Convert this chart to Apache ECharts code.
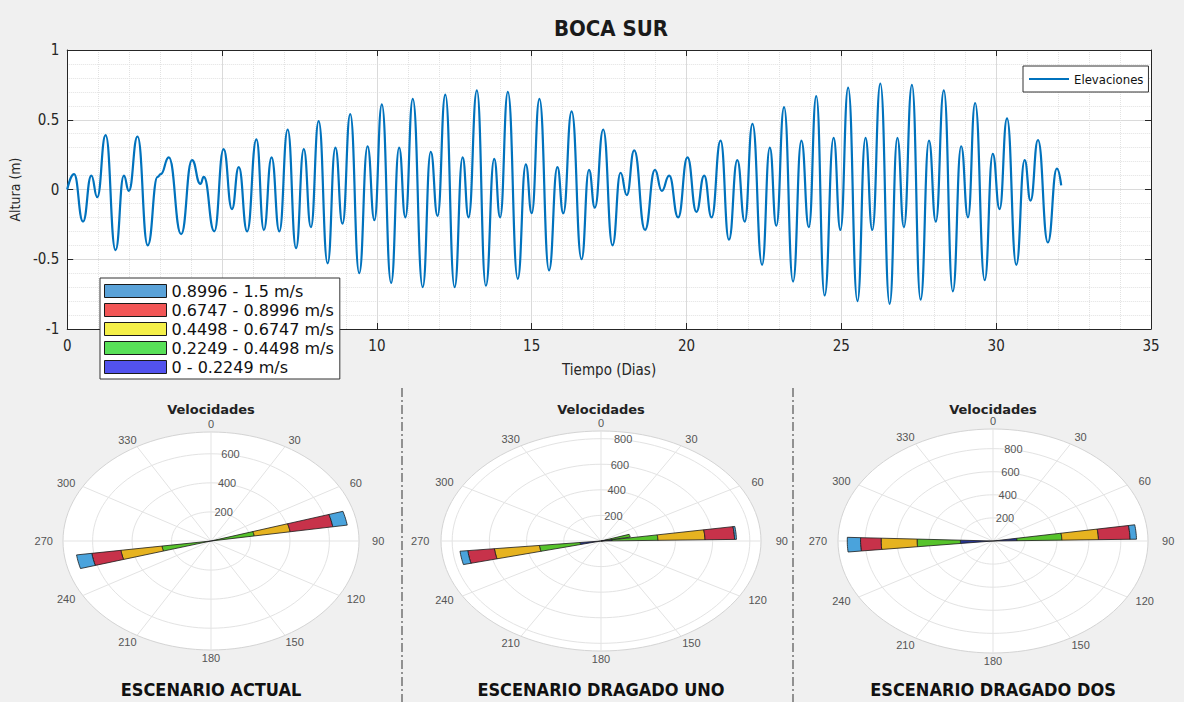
<!DOCTYPE html>
<html><head><meta charset="utf-8">
<script src="https://cdn.jsdelivr.net/npm/echarts@6/dist/echarts.min.js"></script>
<style>html,body{margin:0;padding:0;background:#f0f0f0}#c{width:1184px;height:702px}</style>
</head><body><div id="c"></div>
<script>
// ---------- DATA ----------
// Tidal elevation (turning points): time in days, height in m
const timeDays = [0,0.22,0.51,0.78,0.97,1.24,1.56,1.83,1.99,2.27,2.60,2.92,3.02,3.28,3.68,4.03,4.30,4.41,4.75,5.05,5.32,5.54,5.81,6.11,6.35,6.60,6.85,7.12,7.39,7.64,7.87,8.12,8.41,8.66,8.89,9.14,9.43,9.70,9.92,10.16,10.46,10.72,10.92,11.16,11.48,11.74,11.96,12.21,12.51,12.77,12.96,13.23,13.52,13.79,13.98,14.23,14.55,14.81,15.00,15.25,15.56,15.83,16.02,16.29,16.61,16.85,17.04,17.31,17.61,17.87,18.07,18.31,18.66,18.98,19.20,19.44,19.73,20.03,20.32,20.57,20.81,21.10,21.37,21.64,21.88,22.13,22.44,22.69,22.90,23.15,23.44,23.71,23.95,24.19,24.46,24.75,24.97,25.22,25.52,25.78,26.00,26.26,26.56,26.81,27.02,27.28,27.56,27.83,28.05,28.31,28.60,28.87,29.09,29.32,29.63,29.89,30.11,30.35,30.65,30.92,31.11,31.35,31.67,31.96,32.10];
const elevationM = [0,0.11,-0.23,0.10,-0.055,0.39,-0.435,0.10,-0.01,0.38,-0.40,0.09,0.11,0.23,-0.32,0.21,0.04,0.09,-0.30,0.29,-0.14,0.16,-0.30,0.36,-0.29,0.23,-0.30,0.43,-0.42,0.29,-0.27,0.49,-0.53,0.30,-0.245,0.54,-0.60,0.31,-0.22,0.61,-0.67,0.30,-0.20,0.65,-0.70,0.27,-0.19,0.68,-0.70,0.23,-0.20,0.71,-0.69,0.22,-0.20,0.70,-0.64,0.18,-0.17,0.65,-0.58,0.16,-0.17,0.56,-0.50,0.14,-0.13,0.43,-0.40,0.12,-0.04,0.28,-0.29,0.14,-0.01,0.10,-0.20,0.23,-0.16,0.10,-0.20,0.35,-0.36,0.21,-0.23,0.47,-0.54,0.30,-0.26,0.59,-0.66,0.35,-0.27,0.67,-0.76,0.37,-0.29,0.73,-0.80,0.37,-0.29,0.76,-0.82,0.37,-0.27,0.75,-0.79,0.35,-0.23,0.71,-0.73,0.31,-0.20,0.62,-0.65,0.255,-0.14,0.51,-0.54,0.21,-0.08,0.355,-0.38,0.15,0.03];
// x tick values hidden behind the velocity legend in the reference
const hiddenXTicks = [5];

// Velocity classes (inner to outer)
const speedClasses = ['0 - 0.2249 m/s','0.2249 - 0.4498 m/s','0.4498 - 0.6747 m/s','0.6747 - 0.8996 m/s','0.8996 - 1.5 m/s'];
// Rose: direction (deg) of each petal and counts per class (inner to outer)
const actualDirs = [77, 258];
const actualCounts = [[15,207,184,219,74],[15,236,210,149,78]];
const actualRings = [200,400,600];
const actualRmax = 750;
const unoDirs = [75, 85, 260];
const unoCounts = [[30,130,0,0,0],[60,246,253,159,10],[113,220,243,144,42]];
const unoRings = [200,400,600,800];
const unoRmax = 860;
const dosDirs = [85, 268];
const dosCounts = [[150,281,229,198,40],[204,271,225,129,83]];
const dosRings = [200,400,600,800];
const dosRmax = 970;
const angleTicks = [0,30,60,90,120,150,180,210,240,270,300,330];
const binWidth = 8;
const scenarioNames = ['ESCENARIO ACTUAL','ESCENARIO DRAGADO UNO','ESCENARIO DRAGADO DOS'];

// ---------- STYLE / LAYOUT ----------
const NARROW = "'Liberation Sans Narrow','DejaVu Sans Condensed','Arial Narrow',sans-serif";
const WIDE = "'DejaVu Sans',sans-serif";
const ARIAL = "'Liberation Sans',Arial,sans-serif";
const roseFill = ['#26348f','#56c32b','#e6b320','#c7324a','#4aa3dc'];
const legendSwatch = ['#5252ee','#58e058','#f4ef48','#f25656','#5aa2d8'];
const roseBoxes = [{cx:211,cy:541,a:148,b:109},{cx:601,cy:541,a:160,b:110},{cx:993,cy:541,a:155,b:112}];
const roseSets = [
  {dirs:actualDirs, counts:actualCounts, rings:actualRings, rmax:actualRmax},
  {dirs:unoDirs, counts:unoCounts, rings:unoRings, rmax:unoRmax},
  {dirs:dosDirs, counts:dosCounts, rings:dosRings, rmax:dosRmax}
];
const D2R = Math.PI/180;

const chart = echarts.init(document.getElementById('c'), null, {renderer:'svg', width:1184, height:702});

const grids = [{left:67, top:50, width:1084, height:279, show:true, backgroundColor:'#ffffff', borderWidth:0}];
const xAxes = [
  {gridIndex:0, type:'value', min:0, max:35, interval:5, position:'bottom',
   axisLine:{show:true, onZero:false, lineStyle:{color:'#262626'}},
   axisTick:{show:true, inside:true, length:6, lineStyle:{color:'#262626'}},
   axisLabel:{fontFamily:NARROW, fontSize:15, color:'#262626', margin:9,
     formatter:v=>hiddenXTicks.indexOf(v)>=0 ? '' : String(v)},
   splitLine:{show:true, lineStyle:{color:'#dadada'}},
   minorTick:{show:false, splitNumber:5},
   minorSplitLine:{show:true, lineStyle:{color:'#e2e2e2', type:'dotted'}},
   name:'Tiempo (Dias)', nameLocation:'middle', nameGap:33,
   nameTextStyle:{fontFamily:NARROW, fontSize:15, color:'#262626'}},
  {gridIndex:0, type:'value', min:0, max:35, interval:5, position:'top',
   axisLine:{show:true, onZero:false, lineStyle:{color:'#262626'}},
   axisTick:{show:true, inside:true, length:6, lineStyle:{color:'#262626'}},
   axisLabel:{show:false}, splitLine:{show:false}}
];
const yAxes = [
  {gridIndex:0, type:'value', min:-1, max:1, interval:0.5, position:'left',
   axisLine:{show:true, onZero:false, lineStyle:{color:'#262626'}},
   axisTick:{show:true, inside:true, length:6, lineStyle:{color:'#262626'}},
   axisLabel:{fontFamily:NARROW, fontSize:15, color:'#262626', margin:8},
   splitLine:{show:true, lineStyle:{color:'#dadada'}},
   minorTick:{show:false, splitNumber:5},
   minorSplitLine:{show:true, lineStyle:{color:'#e2e2e2', type:'dotted'}},
   name:'Altura (m)', nameLocation:'middle', nameGap:26, nameRotate:90,
   nameTextStyle:{fontFamily:NARROW, fontSize:14, color:'#262626'}},
  {gridIndex:0, type:'value', min:-1, max:1, interval:0.5, position:'right',
   axisLine:{show:true, onZero:false, lineStyle:{color:'#262626'}},
   axisTick:{show:true, inside:true, length:6, lineStyle:{color:'#262626'}},
   axisLabel:{show:false}, splitLine:{show:false}}
];

const series = [{
  name:'Elevaciones', type:'line', xAxisIndex:0, yAxisIndex:0,
  data: timeDays.map((t,i)=>[t, elevationM[i]]),
  showSymbol:false, smooth:0.5, smoothMonotone:'x',
  lineStyle:{color:'#0072BD', width:2.2}, itemStyle:{color:'#0072BD'}, z:3
}];

function ellipsePts(api, r){
  const p=[];
  for(let i=0;i<=120;i++){const t=i*3*D2R; p.push(api.coord([r*Math.sin(t), r*Math.cos(t)]));}
  return p;
}

roseSets.forEach((rs, k) => {
  const bx = roseBoxes[k];
  const gi = k+1;
  const ai = xAxes.length;
  grids.push({left:bx.cx-bx.a, top:bx.cy-bx.b, width:2*bx.a, height:2*bx.b, show:false});
  xAxes.push({gridIndex:gi, type:'value', min:-rs.rmax, max:rs.rmax, show:false, splitLine:{show:false}});
  yAxes.push({gridIndex:gi, type:'value', min:-rs.rmax, max:rs.rmax, show:false, splitLine:{show:false}});
  // polar grid
  series.push({
    type:'custom', name:'grid'+k, xAxisIndex:ai, yAxisIndex:ai, silent:true, z:1,
    data:[[0,0]],
    renderItem:function(params, api){
      const R = rs.rmax, ch=[];
      ch.push({type:'polygon', shape:{points:ellipsePts(api,R)}, style:{fill:'#ffffff', stroke:'#d4d4d4', lineWidth:1}});
      rs.rings.forEach(r=>ch.push({type:'polyline', shape:{points:ellipsePts(api,r)}, style:{fill:null, stroke:'#e3e3e3', lineWidth:1}}));
      const c0 = api.coord([0,0]);
      angleTicks.forEach(a=>{
        const t=a*D2R;
        const c1=api.coord([R*Math.sin(t), R*Math.cos(t)]);
        ch.push({type:'line', shape:{x1:c0[0],y1:c0[1],x2:c1[0],y2:c1[1]}, style:{stroke:'#e3e3e3', lineWidth:1}});
        const lp=api.coord([1.13*R*Math.sin(t), 1.07*R*Math.cos(t)]);
        ch.push({type:'text', x:lp[0], y:lp[1], style:{text:String(a), fill:'#555555', font:'11px '+ARIAL, align:'center', verticalAlign:'middle'}});
      });
      rs.rings.forEach(r=>{
        const t=5*D2R, p=api.coord([r*Math.sin(t), r*Math.cos(t)]);
        ch.push({type:'text', x:p[0], y:p[1], style:{text:String(r), fill:'#555555', font:'11px '+ARIAL, align:'left', verticalAlign:'middle'}});
      });
      return {type:'group', children:ch};
    }
  });
  // petals, one series per velocity class
  speedClasses.forEach((cls, c) => {
    const data = [];
    rs.dirs.forEach((d, j) => {
      let start = 0;
      for (let q=0;q<c;q++) start += rs.counts[j][q];
      const end = start + rs.counts[j][c];
      if (end > start) data.push([d, start, end]);
    });
    series.push({
      type:'custom', name:cls, xAxisIndex:ai, yAxisIndex:ai, z:3,
      itemStyle:{color:roseFill[c]},
      data:data,
      renderItem:function(params, api){
        const dir=api.value(0), r0=api.value(1), r1=api.value(2);
        const pts=[];
        for(let i=0;i<=8;i++){const t=(dir-binWidth/2+i*binWidth/8)*D2R; pts.push(api.coord([r1*Math.sin(t), r1*Math.cos(t)]));}
        for(let i=8;i>=0;i--){const t=(dir-binWidth/2+i*binWidth/8)*D2R; pts.push(api.coord([r0*Math.sin(t), r0*Math.cos(t)]));}
        return {type:'polygon', shape:{points:pts}, style:{fill:api.visual('color'), stroke:'#1a1a1a', lineWidth:0.8}};
      }
    });
  });
});

const graphic = [
  {type:'text', x:611, y:28, style:{text:'BOCA SUR', font:'bold 22px '+NARROW, fill:'#1a1a1a', align:'center', verticalAlign:'middle'}},
  {type:'line', shape:{x1:402,y1:388,x2:402,y2:702}, style:{stroke:'#333', lineWidth:1, lineDash:[9,3,2,3]}},
  {type:'line', shape:{x1:793,y1:388,x2:793,y2:702}, style:{stroke:'#333', lineWidth:1, lineDash:[9,3,2,3]}}
];
roseBoxes.forEach((bx,k)=>{
  graphic.push({type:'text', x:bx.cx, y:409, style:{text:'Velocidades', font:'bold 13px '+WIDE, fill:'#222', align:'center', verticalAlign:'middle'}});
  graphic.push({type:'text', x:bx.cx, y:689, style:{text:scenarioNames[k], font:'bold 18px '+NARROW, fill:'#111', align:'center', verticalAlign:'middle'}});
});

chart.setOption({
  backgroundColor:'#f0f0f0',
  animation:false,
  grid:grids, xAxis:xAxes, yAxis:yAxes, series:series, graphic:graphic,
  legend:[
    {data:[{name:'Elevaciones', icon:'rect'}], left:1023, top:66, orient:'horizontal',
     itemWidth:40, itemHeight:2, itemGap:5, selectedMode:false,
     backgroundColor:'#ffffff', borderColor:'#333', borderWidth:1, borderRadius:0, padding:[6,5,6,6],
     textStyle:{fontFamily:NARROW, fontSize:13, color:'#111', lineHeight:14}},
    {data:speedClasses.slice().reverse().map(n=>({name:n, icon:'rect',
        itemStyle:{color:legendSwatch[speedClasses.indexOf(n)], borderColor:'#1a1a1a', borderWidth:1}})),
     left:100, top:278, orient:'vertical', itemWidth:62, itemHeight:13, itemGap:3, selectedMode:false,
     backgroundColor:'#ffffff', borderColor:'#333', borderWidth:1, borderRadius:0, padding:[5,6,4,4],
     textStyle:{fontFamily:WIDE, fontSize:16, color:'#111', lineHeight:13}}
  ]
});
</script></body></html>
